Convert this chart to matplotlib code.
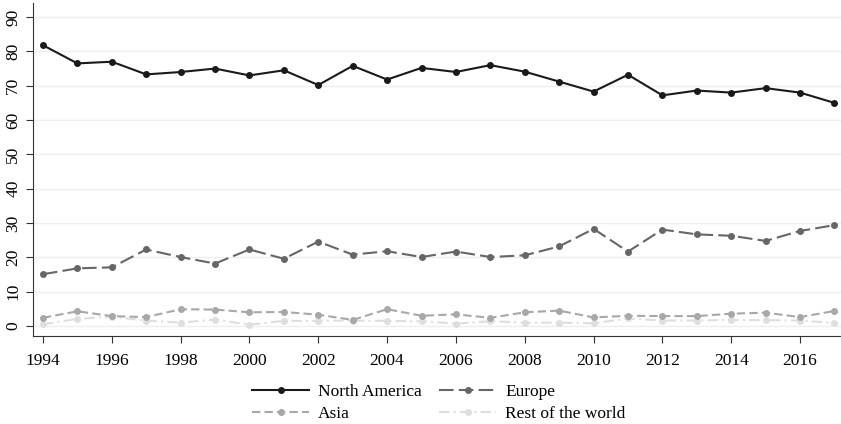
import numpy as np
import matplotlib.pyplot as plt

plt.rcParams["font.family"] = ["Liberation Serif", "DejaVu Serif"]

years = list(range(1994, 2018))
north_america = [81.8, 76.5, 77.0, 73.3, 74.0, 75.0, 73.0, 74.5, 70.2, 75.8, 71.8, 75.2,
                 74.0, 76.0, 74.1, 71.2, 68.3, 73.2, 67.2, 68.6, 68.0, 69.3, 68.0, 65.0]
europe = [15.1, 16.8, 17.1, 22.3, 20.1, 18.2, 22.3, 19.6, 24.6, 20.8, 21.8, 20.1,
          21.7, 20.1, 20.6, 23.2, 28.3, 21.7, 28.1, 26.7, 26.3, 24.8, 27.7, 29.4]
asia = [2.4, 4.3, 2.9, 2.6, 4.9, 4.8, 4.0, 4.1, 3.3, 1.8, 4.9, 3.0,
        3.4, 2.4, 4.0, 4.5, 2.5, 3.0, 2.9, 2.9, 3.6, 3.9, 2.6, 4.4]
rest = [0.5, 2.1, 2.7, 1.6, 1.0, 1.9, 0.4, 1.5, 1.5, 1.6, 1.5, 1.4,
        0.7, 1.4, 1.0, 1.0, 0.8, 2.2, 1.6, 1.6, 1.8, 1.7, 1.6, 0.9]

fig = plt.figure(figsize=(8.41, 4.24), dpi=100)
ax = fig.add_axes([33 / 841, 88 / 424, 808 / 841, 333 / 424])

ax.plot(years, rest, color="#dedede", lw=1.5, marker="o", ms=4,
        dashes=(5, 2, 1, 2), label="Rest of the world", zorder=2)
ax.plot(years, asia, color="#a8a8a8", lw=1.5, marker="o", ms=4,
        dashes=(4, 2), label="Asia", zorder=3)
ax.plot(years, europe, color="#666666", lw=1.5, marker="o", ms=4,
        dashes=(7, 2.5), label="Europe", zorder=4)
ax.plot(years, north_america, color="#1a1a1a", lw=1.5, marker="o", ms=4,
        label="North America", zorder=5)

ax.set_xlim(1993.71, 2017.19)
ax.set_ylim(-2.9, 94.1)
ax.set_xticks(range(1994, 2018, 2))
ax.set_yticks(range(0, 100, 10))
ax.grid(axis="y", color="#eeeeee", lw=1)
ax.set_axisbelow(True)
for s in ["top", "right"]:
    ax.spines[s].set_visible(False)
for s in ["left", "bottom"]:
    ax.spines[s].set_color("#333333")
ax.tick_params(labelsize=12.5, color="#333333", length=5)
ax.tick_params(axis="x", pad=7.5)
for lab in ax.get_yticklabels():
    lab.set_rotation(90)
    lab.set_va("center")

h, l = ax.get_legend_handles_labels()
# row-major: North America, Europe / Asia, Rest of the world
order = [3, 1, 2, 0]
fig.legend([h[i] for i in order], [l[i] for i in order], ncol=2, frameon=False,
           loc="center left", bbox_to_anchor=(245 / 841, 1 - 403 / 424), fontsize=12.5,
           handlelength=3.3, handletextpad=0.5, columnspacing=1.0,
           labelspacing=0.3, borderaxespad=0)

fig.savefig("out.png", dpi=100)
